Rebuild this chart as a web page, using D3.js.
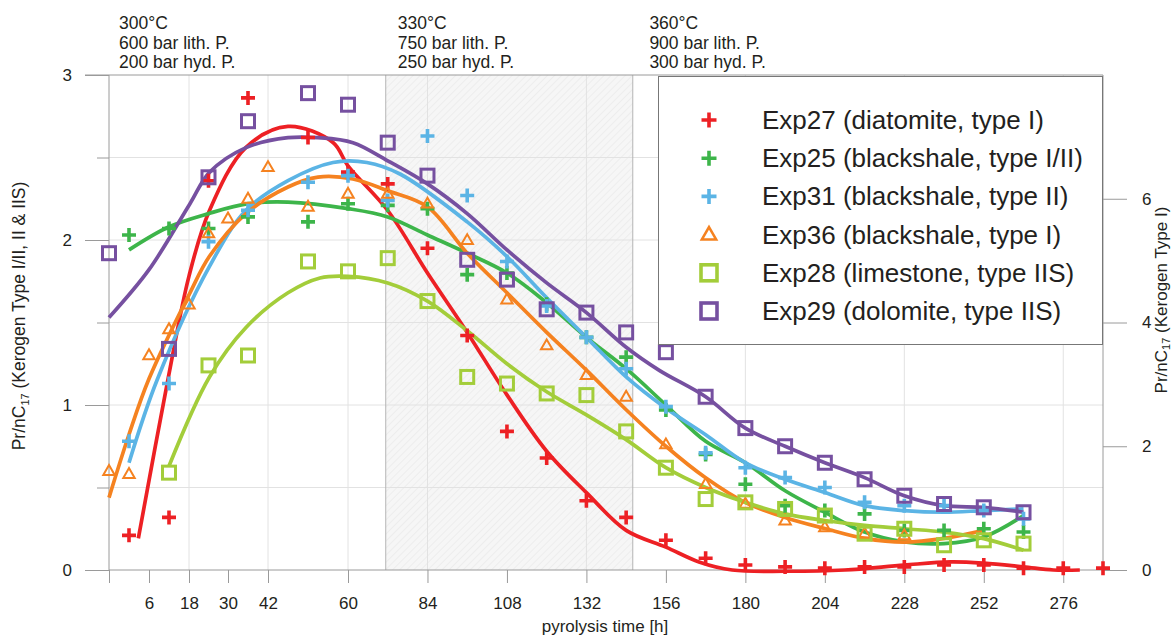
<!DOCTYPE html>
<html>
<head>
<meta charset="utf-8">
<script src="https://cdn.jsdelivr.net/npm/d3@7"></script>
<style>
  body { margin: 0; background: #fff; }
  svg { font-family: "Liberation Sans", Arial, sans-serif; fill: #231f20; }
</style>
</head>
<body>
<script>
// sample times [h]
var times = [0, 3, 6, 12, 18, 24, 30, 36, 42, 48, 60, 72, 84, 96, 108, 120, 132, 144, 156, 168, 180, 192, 204, 216, 228, 240, 252, 264, 276, 288];
var xTicks = [0, 6, 18, 30, 42, 60, 84, 108, 132, 156, 180, 204, 228, 252, 276];
var xGrid = [18, 42, 60, 84, 132, 180, 228, 276];

// measured points [time, value]; Exp27 and Exp36 on the right axis (type I)
var exp27 = [[3,0.56],[12,0.85],[24,6.29],[36,7.63],[48,6.99],[60,6.43],[72,6.24],[84,5.2],[96,3.79],[108,2.24],[120,1.81],[132,1.12],[144,0.85],[156,0.48],[168,0.19],[180,0.08],[192,0.05],[204,0.03],[216,0.05],[228,0.05],[240,0.08],[252,0.08],[264,0.03],[276,0.03],[288,0.03]];
var exp25 = [[3,2.03],[12,2.07],[24,2.07],[36,2.14],[48,2.11],[60,2.22],[72,2.21],[84,2.19],[96,1.79],[108,1.80],[120,1.61],[132,1.41],[144,1.29],[156,0.97],[168,0.70],[180,0.52],[192,0.39],[204,0.36],[216,0.34],[228,0.24],[240,0.24],[252,0.25],[264,0.23]];
var exp31 = [[3,0.78],[12,1.13],[24,1.99],[36,2.18],[48,2.35],[60,2.39],[72,2.24],[84,2.63],[96,2.27],[108,1.87],[120,1.60],[132,1.41],[144,1.22],[156,0.99],[168,0.71],[180,0.62],[192,0.56],[204,0.50],[216,0.41],[228,0.39],[240,0.39],[252,0.36],[264,0.31]];
var exp36 = [[0,1.60],[3,1.55],[6,3.47],[12,3.89],[18,4.29],[24,5.44],[30,5.68],[36,6.0],[42,6.51],[48,5.87],[60,6.08],[72,6.08],[84,5.92],[96,5.33],[108,4.37],[120,3.63],[132,3.15],[144,2.8],[156,2.03],[168,1.39],[180,1.07],[192,0.8],[204,0.69],[216,0.59],[228,0.56]];
var exp28 = [[12,0.59],[24,1.24],[36,1.30],[48,1.87],[60,1.81],[72,1.89],[84,1.63],[96,1.17],[108,1.13],[120,1.07],[132,1.06],[144,0.84],[156,0.62],[168,0.43],[180,0.41],[192,0.37],[204,0.33],[216,0.22],[228,0.25],[240,0.15],[252,0.18],[264,0.16]];
var exp29 = [[0,1.92],[12,1.34],[24,2.38],[36,2.72],[48,2.89],[60,2.82],[72,2.59],[84,2.39],[96,1.88],[108,1.76],[120,1.58],[132,1.56],[144,1.44],[156,1.32],[168,1.05],[180,0.86],[192,0.75],[204,0.65],[216,0.55],[228,0.45],[240,0.40],[252,0.38],[264,0.35]];

// fitted trend lines
var fit27 = [[4.4,0.51],[12,3.17],[18,4.75],[24.3,5.81],[35.4,6.83],[45,7.17],[55.5,6.91],[60,6.53],[72,5.81],[84,4.8],[96,3.84],[108,2.83],[120,1.92],[132,1.25],[144,0.64],[156,0.37],[166,0.13],[176,0],[192,-0.02],[210,0],[228,0.08],[242,0.13],[252,0.11],[264,0.05],[273,0],[281,0]];
var fit25 = [[3,1.94],[12,2.08],[24,2.16],[36,2.22],[45,2.23],[60,2.19],[72,2.14],[84,2.03],[96,1.92],[108,1.80],[120,1.62],[132,1.41],[144,1.22],[156,1.0],[168,0.78],[180,0.65],[192,0.48],[204,0.35],[216,0.23],[228,0.17],[240,0.16],[252,0.20],[264,0.33]];
var fit31 = [[3,0.65],[8.4,1.15],[24.3,1.84],[35.4,2.18],[45,2.36],[55.5,2.47],[65.7,2.47],[75.7,2.40],[96,2.11],[108,1.90],[120,1.65],[132,1.41],[144,1.17],[156,0.98],[168,0.82],[180,0.65],[192,0.55],[204,0.47],[216,0.39],[228,0.36],[240,0.35],[252,0.36],[264,0.37]];
var fit36 = [[0,1.17],[3,2.19],[6,3.09],[18.3,4.48],[24.3,5.07],[35.4,5.76],[45,6.19],[51,6.35],[61.5,6.32],[72,6.13],[84,5.87],[96,5.12],[108,4.48],[120,3.84],[132,3.23],[144,2.59],[156,2.0],[168,1.49],[180,1.09],[192,0.85],[204,0.67],[216,0.51],[228,0.45],[240,0.51],[252,0.64]];
var fit28 = [[12,0.63],[24.3,1.17],[35.4,1.47],[45,1.68],[51.6,1.77],[60,1.78],[72,1.74],[84,1.63],[96,1.45],[108,1.25],[120,1.08],[132,0.94],[144,0.79],[156,0.62],[168,0.50],[180,0.41],[192,0.34],[204,0.30],[216,0.27],[228,0.25],[240,0.23],[252,0.19],[264,0.12]];
var fit29 = [[0,1.53],[6,1.82],[18.3,2.22],[24.3,2.41],[35.4,2.56],[45,2.62],[51,2.62],[61.5,2.59],[72,2.48],[84,2.34],[96,2.16],[108,1.94],[120,1.74],[132,1.56],[144,1.35],[154,1.21],[168,1.05],[180,0.86],[192,0.75],[204,0.65],[216,0.56],[228,0.45],[240,0.39],[252,0.38],[264,0.35]];

var series = [
  {name: "Exp27 (diatomite, type I)", color: "#ed2024", sym: "plus", axis: "right", pts: exp27, fit: fit27},
  {name: "Exp25 (blackshale, type I/II)", color: "#3db54a", sym: "plus", axis: "left", pts: exp25, fit: fit25},
  {name: "Exp31 (blackshale, type II)", color: "#5bb4e5", sym: "plus", axis: "left", pts: exp31, fit: fit31},
  {name: "Exp36 (blackshale, type I)", color: "#f58220", sym: "tri", axis: "right", pts: exp36, fit: fit36},
  {name: "Exp28 (limestone, type IIS)", color: "#a3cd3a", sym: "square", axis: "left", pts: exp28, fit: fit28},
  {name: "Exp29 (dolomite, type IIS)", color: "#7650a0", sym: "square", axis: "left", pts: exp29, fit: fit29}
];

var headers = [
  {t: 0, lines: ["300°C", "600 bar lith. P.", "200 bar hyd. P."]},
  {t: 72, lines: ["330°C", "750 bar lith. P.", "250 bar hyd. P."]},
  {t: 148, lines: ["360°C", "900 bar lith. P.", "300 bar hyd. P."]}
];

var width = 1174, height = 635;
var pTop = 75, pBottom = 570, pLeft = 109, pRight = 1103;

var svg = d3.select("body").append("svg")
  .attr("width", width)
  .attr("height", height);

// time axis is stretched unevenly in the figure
var x = d3.scaleLinear()
  .domain([0, 6, 18, 30, 42, 48, 60, 288])
  .range([109, 149, 189, 228, 268, 308, 348, pRight]);
var yL = d3.scaleLinear().domain([0, 3]).range([pBottom, pTop]);
var yR = d3.scaleLinear().domain([0, 8]).range([pBottom, pTop]);

var defs = svg.append("defs");
var pat = defs.append("pattern")
  .attr("id", "hatch")
  .attr("patternUnits", "userSpaceOnUse")
  .attr("width", 5).attr("height", 5)
  .attr("patternTransform", "rotate(45)");
pat.append("rect").attr("width", 5).attr("height", 5).attr("fill", "#f6f6f6");
pat.append("line").attr("x1", 0).attr("y1", 0).attr("x2", 0).attr("y2", 5)
  .attr("stroke", "#e8e8e8").attr("stroke-width", 1.2);

// shaded 330°C interval
svg.append("rect")
  .attr("x", x(72) - 2).attr("y", pTop)
  .attr("width", x(146) - x(72) + 2).attr("height", pBottom - pTop)
  .attr("fill", "url(#hatch)");

// grid
svg.append("g").selectAll("line")
  .data(d3.range(0.5, 3, 0.5))
  .enter().append("line")
  .attr("x1", pLeft).attr("x2", pRight)
  .attr("y1", d => yL(d)).attr("y2", d => yL(d))
  .attr("stroke", "#e2e2e2");
svg.append("g").selectAll("line")
  .data(xGrid)
  .enter().append("line")
  .attr("x1", d => x(d)).attr("x2", d => x(d))
  .attr("y1", pTop).attr("y2", pBottom)
  .attr("stroke", "#e2e2e2");

svg.append("g").selectAll("line")
  .data([x(72) - 2, x(146)])
  .enter().append("line")
  .attr("x1", d => d).attr("x2", d => d)
  .attr("y1", pTop).attr("y2", pBottom)
  .attr("stroke", "#b5b5b5");

// frame
svg.append("line").attr("x1", 85).attr("x2", pRight).attr("y1", pTop).attr("y2", pTop).attr("stroke", "#9a9a9a");
svg.append("line").attr("x1", pLeft).attr("x2", pRight).attr("y1", pBottom).attr("y2", pBottom).attr("stroke", "#9a9a9a");
svg.append("line").attr("x1", pLeft).attr("x2", pLeft).attr("y1", pTop).attr("y2", pBottom).attr("stroke", "#9a9a9a");
svg.append("line").attr("x1", pRight).attr("x2", pRight).attr("y1", pTop).attr("y2", pBottom).attr("stroke", "#9a9a9a");

// axes
var xAxis = svg.append("g")
  .attr("transform", "translate(0," + pBottom + ")")
  .call(d3.axisBottom(x).tickValues(xTicks).tickSize(13).tickPadding(14)
    .tickFormat(d => d === 0 ? "" : d));

var yAxisL = svg.append("g")
  .attr("transform", "translate(" + pLeft + ",0)")
  .call(d3.axisLeft(yL).tickValues(d3.range(0, 3.01, 0.5)).tickSize(24).tickPadding(13)
    .tickFormat(d => d % 1 === 0 ? d : ""));
yAxisL.selectAll(".tick line").attr("x2", d => d % 1 === 0 ? -24 : -12);

var yAxisR = svg.append("g")
  .attr("transform", "translate(" + pRight + ",0)")
  .call(d3.axisRight(yR).tickValues([0, 2, 4, 6]).tickSize(24).tickPadding(15));

[xAxis, yAxisL, yAxisR].forEach(function(a) {
  a.select(".domain").remove();
  a.selectAll(".tick line").attr("stroke", "#9a9a9a");
  a.selectAll(".tick text")
    .attr("font-family", "Liberation Sans, Arial, sans-serif")
    .attr("font-size", 17).attr("fill", "#231f20");
});

// axis titles
svg.append("text")
  .attr("x", 605).attr("y", 632)
  .attr("text-anchor", "middle").attr("font-size", 17)
  .text("pyrolysis time [h]");

var tl = svg.append("text")
  .attr("transform", "translate(25,316) rotate(-90)")
  .attr("text-anchor", "middle").attr("font-size", 17.5);
tl.append("tspan").text("Pr/nC");
tl.append("tspan").attr("font-size", 11).attr("dy", 4).text("17");
tl.append("tspan").attr("dy", -4).text(" (Kerogen Type I/II, II & IIS)");

var tr = svg.append("text")
  .attr("transform", "translate(1167,300) rotate(-90)")
  .attr("text-anchor", "middle").attr("font-size", 17);
tr.append("tspan").text("Pr/nC");
tr.append("tspan").attr("font-size", 11).attr("dy", 3).text("17");
tr.append("tspan").attr("dy", -3).text(" (Kerogen Type I)");

// temperature / pressure headers
headers.forEach(function(h) {
  var t = svg.append("text").attr("font-size", 17.5);
  h.lines.forEach(function(s, i) {
    t.append("tspan").attr("x", x(h.t) + 10).attr("y", 29 + i * 19.5).text(s);
  });
});

function symbol(g, sym, color, big) {
  if (sym === "plus") {
    var s = big ? 7.5 : 7;
    g.append("path").attr("d", "M" + (-s) + ",0H" + s + "M0," + (-s) + "V" + s)
      .attr("stroke", color).attr("stroke-width", 3.6).attr("fill", "none");
  } else if (sym === "square") {
    var q = big ? 8 : 6.5;
    g.append("rect").attr("x", -q).attr("y", -q).attr("width", 2 * q).attr("height", 2 * q)
      .attr("stroke", color).attr("stroke-width", big ? 3.6 : 3).attr("fill", "none");
  } else {
    var r = big ? 7.5 : 6;
    g.append("path").attr("d", "M0," + (-r) + "L" + (r * 0.95) + "," + (r * 0.65) + "L" + (-r * 0.95) + "," + (r * 0.65) + "Z")
      .attr("stroke", color).attr("stroke-width", big ? 2.6 : 2).attr("fill", "none");
  }
}

// trend lines
series.forEach(function(s) {
  var ys = s.axis === "right" ? yR : yL;
  var line = d3.line()
    .x(d => x(d[0]))
    .y(d => ys(d[1]))
    .curve(d3.curveCatmullRom.alpha(0.5));
  svg.append("path")
    .datum(s.fit)
    .attr("d", line)
    .attr("fill", "none")
    .attr("stroke", s.color)
    .attr("stroke-width", 3.7);
});

// markers
series.forEach(function(s) {
  var ys = s.axis === "right" ? yR : yL;
  svg.append("g").selectAll("g")
    .data(s.pts)
    .enter().append("g")
    .attr("transform", d => "translate(" + x(d[0]) + "," + ys(d[1]) + ")")
    .each(function() { symbol(d3.select(this), s.sym, s.color, false); });
});

// legend
var lg = svg.append("g");
lg.append("rect")
  .attr("x", 658.5).attr("y", 76.5).attr("width", 444).attr("height", 268)
  .attr("fill", "#fff").attr("stroke", "#777");
series.forEach(function(s, i) {
  var yy = 120 + i * 38.2;
  var g = lg.append("g").attr("transform", "translate(709," + yy + ")");
  symbol(g, s.sym, s.color, true);
  lg.append("text")
    .attr("x", 762).attr("y", yy + 9)
    .attr("font-size", 26)
    .text(s.name);
});
</script>
</body>
</html>
